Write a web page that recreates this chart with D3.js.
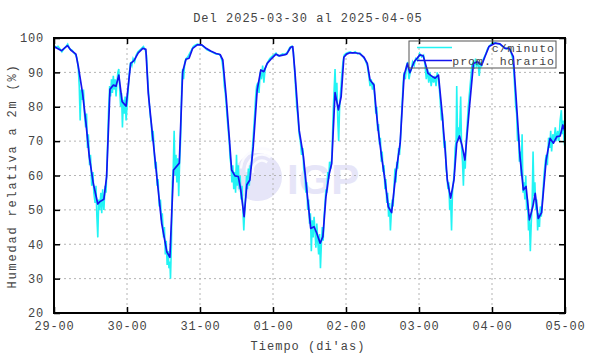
<!DOCTYPE html>
<html>
<head>
<meta charset="utf-8">
<script src="https://cdn.jsdelivr.net/npm/d3@7"></script>
<style>
    body { margin: 0; background: #fff; }
    text { font-family: "Liberation Mono", "DejaVu Sans Mono", monospace; }
</style>
</head>
<body>
<div id="chart"></div>
<script>
// datos (horas desde 29-00)
const dayLabels = ["29-00", "30-00", "31-00", "01-00", "02-00", "03-00", "04-00", "05-00"];
const dayHours = [0, 24, 48, 72, 96, 120, 144, 168];
const yTicks = [20, 30, 40, 50, 60, 70, 80, 90, 100];

// promedio horario
const horaT = [0, 2.5, 4.4, 5.5, 7.2, 8, 9.4, 10.5, 11.6, 12.9, 14.4, 15.1, 16.4, 17.3, 18.4, 19.5, 20.4, 21.3, 22.4, 23.7,
    25.2, 26.3, 27.7, 29.2, 30.2, 31, 32.1, 33.8, 35.4, 37.1, 38.1, 39.3, 41.2, 42.3, 43.4, 44.4, 45.6, 47.1,
    48.6, 50, 51.5, 53.3, 54.6, 55.5, 56.6, 57.6, 58.4, 59.5, 60.6, 61.4, 62.5, 63.4, 64.4, 65.5, 66.8, 68, 69, 70.1, 71.6,
    73, 74.1, 75.6, 76.5, 77.8, 78.5, 79.2, 80.6, 82, 83.1, 84.4, 85.5, 86.4, 87.5, 88.4, 89.4, 90.5, 91.3, 92.4, 93.5, 94.4, 95.3,
    96.2, 97.3, 98.9, 100.4, 101.9, 103, 103.9, 105.2, 105.9, 106.6, 107.7, 108.8, 109.9, 111, 112.4, 113.8, 115.1, 116.2, 117, 118.4,
    120.3, 121.4, 123, 124.5, 125.3, 126.4, 127.5, 128.6, 129.3, 130.4, 131.5, 132.4, 133.3, 134.1, 135.1, 136.5, 137.9, 139.2, 140.6, 141.7, 143,
    145, 146.6, 148.3, 149.7, 151, 151.9, 153.2, 154.3, 155.2, 156.3, 157.4, 158.2, 159.2, 160.3, 161.8, 163.1, 164.2, 165.3, 166.4, 167.3, 168];
const horaV = [97.5, 96.3, 97.8, 96.5, 95.3, 91.7, 83.9, 75.3, 65.5, 57.8, 51.7, 52.4, 53.1, 59.7, 85.1, 86.3, 86, 89.2, 81.5, 80.2,
    92.6, 93.4, 95.7, 97, 96.7, 83.9, 74.2, 59.7, 46.1, 37.8, 36.2, 61.6, 63.6, 90.2, 93.8, 94.1, 97, 98,
    98, 97, 96.2, 95.5, 95.2, 93.6, 82.9, 71.3, 61.6, 59.9, 59.7, 55.8, 48, 57.3, 58.7, 68.4, 84.9, 90.7, 90.2, 92.6, 94.1,
    95.3, 94.8, 95.1, 95.3, 97.3, 97.5, 90.2, 73.2, 65.5, 55.8, 44.6, 45.1, 43.2, 40.3, 42.2, 53.8, 60.6, 63.5, 84.1, 79.1, 82.9, 94.4,
    95.3, 95.7, 95.7, 95.5, 94.4, 92.6, 87.8, 86.3, 79.1, 73.2, 65.5, 58.7, 50.9, 49.2, 60.6, 69.4, 89.2, 92.6, 89.9, 93.1,
    95.1, 94.8, 89.7, 88.7, 88.3, 89.2, 79.1, 67.4, 58.7, 53.4, 58.7, 69.4, 71.5, 68.9, 64.5, 79.1, 92.6, 93.1, 92.1, 94.6, 97.5,
    98.5, 98.3, 97, 97, 94.6, 82.9, 65.5, 55.8, 56.8, 47.1, 50.9, 54.8, 47.5, 49.2, 64.5, 70.8, 69.4, 71.3, 71.5, 74.7, 72.7];

const minuto = [
    [0, 98], [0.6, 97.2], [1.3, 97.6], [2, 96.8], [2.6, 96], [3.2, 96.8], [4, 97.6], [4.5, 98.2], [5.2, 96.8], [6, 96.4], [6.6, 95.6], [7.2, 95], [7.6, 94],
    [8, 91], [8.3, 86], [8.6, 76], [8.9, 85], [9.3, 82], [9.7, 85], [10, 78], [10.4, 74], [10.7, 78], [11, 68], [11.3, 72], [11.7, 63], [12, 66], [12.4, 57],
    [12.8, 61], [13.1, 55], [13.5, 52], [13.8, 57], [14.1, 48], [14.4, 42], [14.7, 53], [15, 50], [15.4, 55], [15.7, 49], [16, 56], [16.4, 50], [16.8, 57],
    [17.1, 55], [17.5, 65], [17.9, 78], [18.3, 86], [18.6, 83], [18.9, 88], [19.2, 84], [19.5, 89], [19.8, 85], [20.1, 88], [20.4, 83], [20.7, 87], [21, 90],
    [21.3, 91], [21.6, 85], [21.9, 80], [22.2, 84], [22.5, 74], [22.8, 82], [23.1, 78], [23.4, 83], [23.7, 76], [24, 80], [24.4, 85], [24.8, 90], [25.2, 93],
    [25.6, 92], [26, 94], [26.5, 93], [27, 95], [27.6, 96], [28.2, 96.5], [28.8, 97], [29.4, 97.5], [30, 96.5], [30.4, 95],
    [30.8, 88], [31.1, 84], [31.4, 80], [31.7, 77], [32, 75], [32.3, 70], [32.6, 73], [33, 66], [33.3, 62], [33.6, 64], [33.9, 57], [34.2, 59], [34.6, 51],
    [35, 53], [35.3, 47], [35.6, 49], [36, 42], [36.3, 45], [36.6, 37], [36.9, 41], [37.2, 34], [37.5, 38], [37.8, 33], [38.1, 35], [38.3, 30], [38.6, 40],
    [38.9, 58], [39.2, 62], [39.5, 73], [39.8, 60], [40.1, 66], [40.4, 58], [40.7, 65], [41, 54], [41.3, 64], [41.6, 70], [42, 86], [42.3, 91], [42.6, 88],
    [43, 93], [43.4, 94], [44, 94.5], [44.6, 95.5], [45.2, 96.5], [45.8, 97.5], [46.5, 98], [47.2, 98.2], [48, 98], [48.8, 97.8], [49.5, 97.3], [50.2, 96.6],
    [51, 96.3], [51.8, 96], [52.6, 95.6], [53.4, 95.3], [54.2, 95.3], [54.8, 94.8], [55.3, 93], [55.7, 90], [56, 86], [56.3, 84], [56.6, 81], [57, 76],
    [57.3, 73], [57.6, 70], [57.9, 65], [58.2, 63], [58.5, 58], [58.8, 63], [59.1, 56], [59.4, 61], [59.7, 55], [60, 66], [60.3, 57], [60.6, 63], [60.9, 56],
    [61.2, 60], [61.5, 53], [61.8, 57], [62.1, 50], [62.4, 44], [62.7, 50], [63, 54], [63.3, 60], [63.6, 56], [63.9, 62], [64.2, 57], [64.5, 63], [64.8, 62],
    [65.1, 66], [65.4, 70], [65.7, 74], [66, 78], [66.3, 83], [66.6, 86], [67, 87], [67.4, 84], [67.8, 90], [68.2, 88], [68.6, 92], [69, 87], [69.4, 91],
    [69.8, 92], [70.3, 93], [70.9, 94], [71.5, 94.5], [72.2, 95], [73, 95.6], [73.7, 94.8], [74.4, 95], [75.2, 95.4], [76, 95.2], [76.8, 96], [77.5, 97.2],
    [78.2, 97.6], [78.7, 96],
    [79, 92], [79.4, 86], [79.8, 80], [80.2, 77], [80.6, 72], [81, 70], [81.4, 66], [81.8, 68], [82.1, 62], [82.5, 60], [82.8, 55], [83.1, 58], [83.4, 50],
    [83.7, 53], [84, 46], [84.3, 49], [84.6, 38], [84.9, 47], [85.2, 42], [85.5, 48], [85.8, 44], [86.1, 39], [86.4, 46], [86.7, 41], [87, 37], [87.3, 43],
    [87.6, 33], [87.9, 40], [88.2, 45], [88.5, 41], [88.8, 48], [89.1, 52], [89.4, 56], [89.7, 55], [90, 61], [90.3, 59], [90.6, 64], [91, 62], [91.4, 66],
    [91.8, 79], [92.1, 85], [92.4, 91], [92.7, 82], [93, 87], [93.3, 76], [93.6, 70], [93.9, 80], [94.2, 84], [94.6, 89], [95, 93], [95.4, 95], [96, 95.5],
    [96.7, 95.8], [97.4, 96], [98.2, 95.6], [99, 96], [99.8, 95.4], [100.6, 95.6], [101.4, 94.8], [102.2, 93.8], [103, 92], [103.5, 89], [103.9, 86],
    [104.3, 88], [104.7, 85], [105.1, 87], [105.5, 82], [105.8, 78], [106.1, 80], [106.4, 73], [106.7, 75], [107, 69], [107.3, 71], [107.6, 64], [107.9, 67],
    [108.2, 61], [108.5, 63], [108.8, 56], [109.1, 59], [109.4, 52], [109.7, 55], [110, 48], [110.3, 52], [110.6, 44], [110.9, 49], [111.2, 53], [111.5, 51],
    [111.8, 57], [112.1, 62], [112.4, 58], [112.7, 64], [113, 62], [113.3, 68], [113.6, 66], [114, 72], [114.4, 80], [114.8, 87], [115.1, 90], [115.5, 88],
    [115.9, 92], [116.3, 93], [116.7, 88], [117.1, 90], [117.5, 91], [117.9, 93], [118.4, 92], [118.9, 94], [119.5, 93.5], [120.2, 95.5], [120.9, 94.5],
    [121.5, 95], [122, 92], [122.4, 88], [122.8, 91], [123.2, 87], [123.6, 90], [124, 86], [124.4, 89], [124.8, 87], [125.2, 89], [125.6, 86], [126, 90],
    [126.4, 88],
    [126.8, 84], [127.1, 80], [127.4, 76], [127.7, 78], [128, 72], [128.3, 68], [128.6, 70], [128.9, 62], [129.2, 60], [129.5, 56], [129.8, 58], [130.1, 50],
    [130.4, 53], [130.7, 44], [131, 55], [131.3, 58], [131.6, 61], [131.9, 68], [132.2, 70], [132.4, 86], [132.7, 70], [133, 74], [133.3, 71], [133.7, 83],
    [134, 68], [134.3, 64], [134.6, 57], [134.9, 66], [135.2, 62], [135.5, 70], [135.8, 74], [136.2, 80], [136.6, 84], [137, 88], [137.4, 92], [137.8, 93],
    [138.2, 91], [138.6, 94], [139, 92], [139.4, 93], [139.8, 89], [140.2, 93], [140.6, 92], [141, 93.5], [141.5, 94.5], [142, 95.5], [142.6, 97], [143.3, 97.8],
    [144, 98.5], [144.8, 98.6], [145.6, 98.4], [146.4, 98.3], [147.2, 97.8], [148, 97.2], [148.8, 96.8], [149.5, 97.2], [150.2, 96], [150.8, 94], [151.2, 90],
    [151.5, 85], [151.8, 80], [152.1, 78], [152.4, 70], [152.7, 72], [153, 64], [153.3, 67], [153.6, 60], [153.9, 72], [154.2, 55], [154.5, 58], [154.8, 53],
    [155.1, 60], [155.4, 50], [155.7, 53], [156, 44], [156.3, 47], [156.6, 38], [156.9, 46], [157.2, 52], [157.5, 67], [157.8, 54], [158.1, 58], [158.4, 50],
    [158.7, 53], [159, 44], [159.3, 49], [159.6, 45], [159.9, 51], [160.2, 48], [160.5, 52], [160.8, 56], [161.1, 60], [161.4, 63], [161.8, 66], [162.2, 63],
    [162.6, 71], [163, 68], [163.3, 73], [163.6, 67], [164, 72], [164.4, 70], [164.8, 74], [165.2, 70], [165.6, 73], [166, 70], [166.4, 76], [166.8, 79],
    [167.1, 72], [167.4, 76], [167.7, 70], [168, 68]
];

const W = 590, H = 354;
const plot = { left: 54, right: 565, top: 38, bottom: 313 };

const svg = d3.select("#chart")
    .append("svg")
    .attr("width", W)
    .attr("height", H);

const x = d3.scaleLinear().domain([0, 168]).range([plot.left, plot.right]);
const y = d3.scaleLinear().domain([20, 100]).range([plot.bottom, plot.top]);

// marca de agua IGP
const wm = svg.append("g").attr("class", "watermark");
wm.append("circle")
    .attr("cx", 258).attr("cy", 177).attr("r", 24)
    .attr("fill", "#e6e5f8");
[8, 14, 20].forEach((r, i) => {
    wm.append("path")
        .attr("d", d3.arc()({ innerRadius: r, outerRadius: r + 2.5, startAngle: -1.9 + i * 0.2, endAngle: 0.6 }))
        .attr("transform", "translate(262,170)")
        .attr("fill", "#fbfbff");
});
wm.append("text")
    .attr("x", 287)
    .attr("y", 194)
    .style("font-family", "'Liberation Sans', Arial, sans-serif")
    .style("font-weight", "bold")
    .style("font-size", "42px")
    .attr("fill", "#e6e5f8")
    .text("IGP");

// rejilla
svg.append("g")
    .selectAll("line")
    .data(dayHours.slice(1, -1))
    .join("line")
    .attr("x1", d => x(d)).attr("x2", d => x(d))
    .attr("y1", plot.top).attr("y2", plot.bottom)
    .attr("stroke", "#b4b4b4")
    .attr("stroke-dasharray", "2,3");

svg.append("g")
    .selectAll("line")
    .data(yTicks.slice(1, -1))
    .join("line")
    .attr("x1", plot.left).attr("x2", plot.right)
    .attr("y1", d => y(d)).attr("y2", d => y(d))
    .attr("stroke", "#b4b4b4")
    .attr("stroke-dasharray", "2,3");

svg.append("clipPath")
    .attr("id", "clip")
    .append("rect")
    .attr("x", plot.left).attr("y", plot.top)
    .attr("width", plot.right - plot.left)
    .attr("height", plot.bottom - plot.top);

const series = svg.append("g").attr("clip-path", "url(#clip)");

series.append("path")
    .datum(minuto)
    .attr("fill", "none")
    .attr("stroke", "#22f4f4")
    .attr("stroke-width", 1.6)
    .attr("d", d3.line().x(d => x(d[0])).y(d => y(d[1])));

series.append("path")
    .datum(d3.zip(horaT, horaV))
    .attr("fill", "none")
    .attr("stroke", "#1414f0")
    .attr("stroke-width", 1.7)
    .attr("stroke-linejoin", "round")
    .attr("d", d3.line().x(d => x(d[0])).y(d => y(d[1])));

// ejes
const tickStyle = g => {
    g.select(".domain").remove();
    g.selectAll("line").attr("stroke", "#000").attr("stroke-width", 1.5);
    g.selectAll("text")
        .attr("fill", "#444")
        .style("font-family", "'Liberation Mono', monospace")
        .style("font-size", "12px")
        .style("letter-spacing", "0.8px");
};

svg.append("g")
    .attr("transform", `translate(0,${plot.bottom})`)
    .call(d3.axisBottom(x).tickValues(dayHours).tickFormat((d, i) => dayLabels[i]).tickSize(-6).tickPadding(8))
    .call(tickStyle);

svg.append("g")
    .attr("transform", `translate(0,${plot.top})`)
    .call(d3.axisTop(x).tickValues(dayHours).tickFormat("").tickSize(-6))
    .call(tickStyle);

svg.append("g")
    .attr("transform", `translate(${plot.left},0)`)
    .call(d3.axisLeft(y).tickValues(yTicks).tickSize(-6).tickPadding(10))
    .call(tickStyle);

svg.append("g")
    .attr("transform", `translate(${plot.right},0)`)
    .call(d3.axisRight(y).tickValues(yTicks).tickFormat("").tickSize(-6))
    .call(tickStyle);

svg.append("rect")
    .attr("x", plot.left).attr("y", plot.top)
    .attr("width", plot.right - plot.left)
    .attr("height", plot.bottom - plot.top)
    .attr("fill", "none")
    .attr("stroke", "#000")
    .attr("stroke-width", 2);

// leyenda
const legend = svg.append("g");
legend.append("rect")
    .attr("x", 409).attr("y", 41)
    .attr("width", 147).attr("height", 27)
    .attr("fill", "none")
    .attr("stroke", "#555")
    .attr("stroke-width", 1);

const legendItems = [
    { label: "c/minuto", color: "#22f4f4", w: 1.6 },
    { label: "prom. horario", color: "#1414f0", w: 1.7 }
];
legendItems.forEach((d, i) => {
    const ly = 47.5 + i * 13;
    legend.append("line")
        .attr("x1", 417).attr("x2", 452)
        .attr("y1", ly).attr("y2", ly)
        .attr("stroke", d.color)
        .attr("stroke-width", d.w);
    legend.append("text")
        .attr("x", 555).attr("y", ly + 4)
        .attr("text-anchor", "end")
        .attr("fill", "#444")
        .style("font-size", "11.5px")
        .style("letter-spacing", "1px")
        .text(d.label);
});

// titulos
svg.append("text")
    .attr("x", 308).attr("y", 22)
    .attr("text-anchor", "middle")
    .attr("fill", "#444")
    .style("font-size", "12px")
    .style("letter-spacing", "1px")
    .text("Del 2025-03-30 al 2025-04-05");

svg.append("text")
    .attr("x", 308).attr("y", 350)
    .attr("text-anchor", "middle")
    .attr("fill", "#444")
    .style("font-size", "12px")
    .style("letter-spacing", "1px")
    .text("Tiempo (di'as)");

svg.append("text")
    .attr("transform", "translate(16,176) rotate(-90)")
    .attr("text-anchor", "middle")
    .attr("fill", "#444")
    .style("font-size", "12px")
    .style("letter-spacing", "1.8px")
    .text("Humedad relativa a 2m (%)");
</script>
</body>
</html>
